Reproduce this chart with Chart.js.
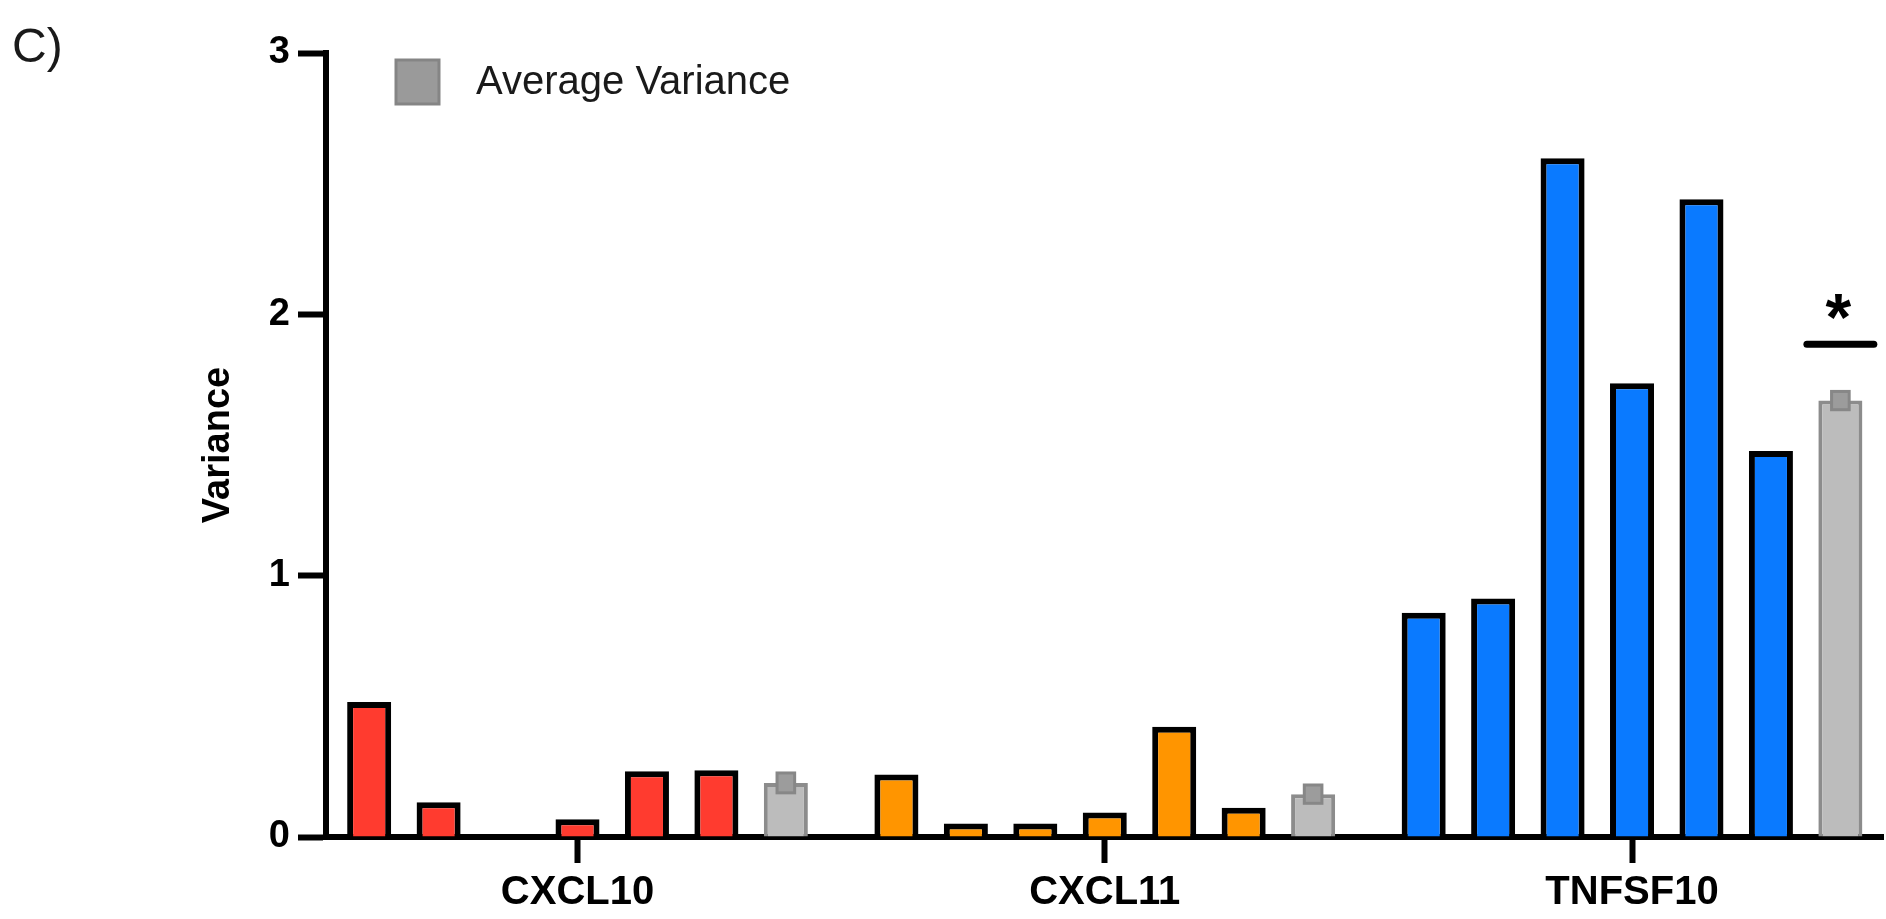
<!DOCTYPE html>
<html>
<head>
<meta charset="utf-8">
<title>Variance</title>
<script src="https://cdn.jsdelivr.net/npm/chart.js@4.4.1/dist/chart.umd.min.js"></script>
<style>
	html, body { margin: 0; padding: 0; background: #fff; }
	#wrap { width: 1886px; height: 919px; }
</style>
</head>
<body>
<div id="wrap"><canvas id="myChart" width="1886" height="919"></canvas></div>
<script>
// values
const genes = ["CXCL10", "CXCL11", "TNFSF10"];
const cxcl10 = [0.517, 0.133, 0.0, 0.068, 0.252, 0.255];
const cxcl11 = [0.239, 0.052, 0.052, 0.094, 0.422, 0.112];
const tnfsf10 = [0.858, 0.913, 2.597, 1.736, 2.44, 1.477];
const averages = [0.207, 0.164, 1.67];
const avgSem = [0.038, 0.035, 0.035];
const yTicks = [0, 1, 2, 3];
const sigIndex = 2;       // TNFSF10 average is marked
const sigLineValue = 1.886;
const sigStarValue = 2.03;

const geneColors = ["#ff3b2f", "#ff9500", "#0a7aff"];
const FONT = "'Liberation Sans', Arial, Helvetica, sans-serif";

Chart.defaults.font.family = FONT;
Chart.defaults.color = "#000";

const perGene = [cxcl10, cxcl11, tnfsf10];
const datasets = [];
for (let i = 0; i < cxcl10.length; i++) {
	datasets.push({
		label: "Sample " + (i + 1),
		data: genes.map((g, gi) => ({ x: gi, y: perGene[gi][i] })),
		backgroundColor: geneColors,
		borderColor: "#000",
		borderWidth: 6
	});
}
datasets.push({
	label: "Average Variance",
	data: genes.map((g, gi) => ({ x: gi, y: averages[gi] })),
	backgroundColor: "#bcbcbc",
	borderColor: "#8c8c8c",
	borderWidth: 4
});

const extras = {
	id: "extras",
	afterDatasetsDraw(chart) {
		const ctx = chart.ctx;
		const y = chart.scales.y;
		const avgMeta = chart.getDatasetMeta(chart.data.datasets.length - 1);
		ctx.save();
		// small error caps on the average bars
		avgMeta.data.forEach((bar, i) => {
			const w = bar.width * 0.4;
			const top = y.getPixelForValue(averages[i] + avgSem[i]);
			const bottom = y.getPixelForValue(averages[i] - avgSem[i]);
			ctx.fillStyle = "#9c9c9c";
			ctx.strokeStyle = "#878787";
			ctx.lineWidth = 3;
			ctx.fillRect(bar.x - w / 2, top, w, bottom - top);
			ctx.strokeRect(bar.x - w / 2, top, w, bottom - top);
		});
		// significance line + star
		const sb = avgMeta.data[sigIndex];
		const ly = y.getPixelForValue(sigLineValue);
		const half = sb.width * 0.76;
		ctx.strokeStyle = "#000";
		ctx.lineWidth = 7;
		ctx.lineCap = "round";
		ctx.beginPath();
		ctx.moveTo(sb.x - half, ly);
		ctx.lineTo(sb.x + half, ly);
		ctx.stroke();
		ctx.font = "bold 66px " + FONT;
		ctx.fillStyle = "#000";
		ctx.textAlign = "center";
		ctx.textBaseline = "alphabetic";
		const m = ctx.measureText("*");
		const cy = y.getPixelForValue(sigStarValue);
		ctx.fillText("*", sb.x - 2, cy + (m.actualBoundingBoxAscent - m.actualBoundingBoxDescent) / 2);
		ctx.restore();
	},
	afterDraw(chart) {
		const ctx = chart.ctx;
		const area = chart.chartArea;
		ctx.save();
		// panel letter
		ctx.font = "48px " + FONT;
		ctx.fillStyle = "#1a1a1a";
		ctx.textAlign = "left";
		ctx.textBaseline = "alphabetic";
		ctx.fillText("C)", 12, 62);
		// legend
		const lx = area.left + 70, ly = area.top + 7;
		ctx.fillStyle = "#9a9a9a";
		ctx.strokeStyle = "#858585";
		ctx.lineWidth = 3;
		ctx.fillRect(lx, ly, 43, 44);
		ctx.strokeRect(lx, ly, 43, 44);
		ctx.font = "40px " + FONT;
		ctx.fillStyle = "#1a1a1a";
		ctx.textBaseline = "middle";
		ctx.fillText("Average Variance", lx + 80, ly + 23);
		ctx.restore();
	}
};

new Chart(document.getElementById("myChart"), {
	type: "bar",
	data: { datasets: datasets },
	plugins: [extras],
	options: {
		responsive: false,
		animation: false,
		events: [],
		categoryPercentage: 0.922,
		barPercentage: 0.634,
		layout: { padding: { left: 0, top: 53, right: 3, bottom: 0 } },
		plugins: {
			legend: { display: false },
			tooltip: { enabled: false }
		},
		scales: {
			x: {
				type: "linear",
				offset: false,
				bounds: "data",
				min: -0.477,
				max: 2.476,
				afterBuildTicks: (scale) => {
					scale.ticks = genes.map((g, i) => ({ value: i }));
				},
				afterFit: (scale) => { scale.height = 82; },
				grid: {
					offset: false,
					drawOnChartArea: false,
					drawTicks: true,
					tickLength: 26,
					tickWidth: 6,
					tickColor: "#000"
				},
				border: { display: true, color: "#000", width: 6 },
				ticks: {
					autoSkip: false,
					maxRotation: 0,
					padding: 6,
					color: "#000",
					font: { size: 40, weight: "bold" },
					callback: (value) => genes[value]
				}
			},
			y: {
				min: 0,
				max: 3,
				afterBuildTicks: (scale) => {
					scale.ticks = yTicks.map(v => ({ value: v }));
				},
				afterFit: (scale) => { scale.width = 326; },
				grid: {
					drawOnChartArea: false,
					drawTicks: true,
					tickLength: 28,
					tickWidth: 6,
					tickColor: "#000"
				},
				border: { display: true, color: "#000", width: 6 },
				ticks: {
					padding: 8,
					color: "#000",
					font: { size: 38, weight: "bold" }
				},
				title: {
					display: true,
					text: "Variance",
					color: "#000",
					font: { size: 38, weight: "bold" },
					padding: { top: 196, bottom: 0 }
				}
			}
		}
	}
});
</script>
</body>
</html>
